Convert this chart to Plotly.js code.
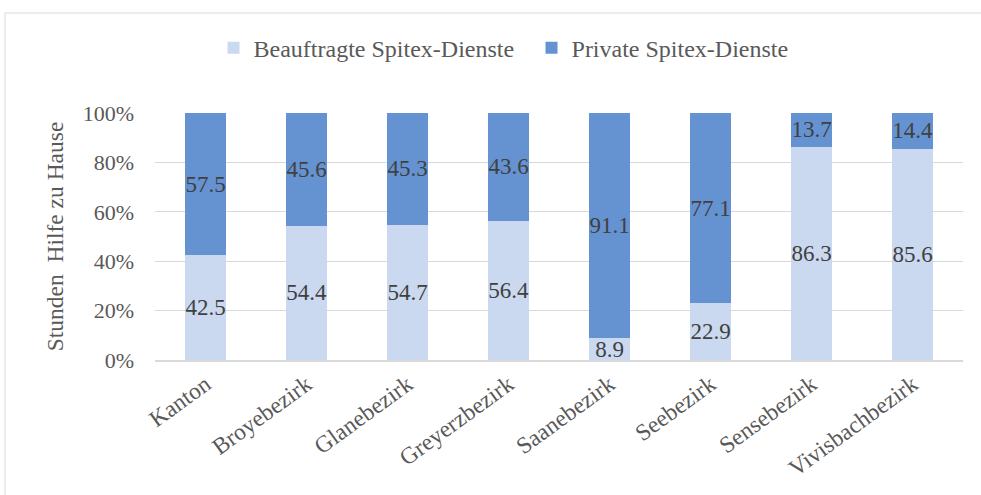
<!DOCTYPE html>
<html>
<head>
<meta charset="utf-8">
<script src="https://cdn.plot.ly/plotly-3.0.1.min.js"></script>
<style>
html,body{margin:0;padding:0;background:#fff;}
#chart{width:981px;height:495px;}
</style>
</head>
<body>
<div id="chart"></div>
<script>
const categories = ["Kanton","Broyebezirk","Glanebezirk","Greyerzbezirk","Saanebezirk","Seebezirk","Sensebezirk","Vivisbachbezirk"];
const beauftragt = [42.5, 54.4, 54.7, 56.4, 8.9, 22.9, 86.3, 85.6];
const privat = [57.5, 45.6, 45.3, 43.6, 91.1, 77.1, 13.7, 14.4];
const seriesNames = ["Beauftragte Spitex-Dienste", "Private Spitex-Dienste"];
const yTickVals = [0, 20, 40, 60, 80, 100];
const yTickText = ["0%", "20%", "40%", "60%", "80%", "100%"];

const FONT = "Liberation Serif, Times New Roman, serif";
const labelFont = {family: FONT, size: 23, color: "#404040"};

const traces = [
  {
    type: "bar", name: seriesNames[0], x: categories, y: beauftragt,
    marker: {color: "#CAD9EF"},
    text: beauftragt.map(v => v.toFixed(1)), textposition: "inside",
    insidetextanchor: "middle", textangle: 0, constraintext: "none",
    textfont: labelFont, hoverinfo: "skip"
  },
  {
    type: "bar", name: seriesNames[1], x: categories, y: privat,
    marker: {color: "#6593D2"},
    text: privat.map(v => v.toFixed(1)), textposition: "inside",
    insidetextanchor: "middle", textangle: 0, constraintext: "none",
    textfont: labelFont, hoverinfo: "skip"
  }
];

const layout = {
  width: 981, height: 495,
  margin: {l: 155, r: 18, t: 113, b: 135},
  barmode: "stack", bargap: 0.595,
  paper_bgcolor: "#ffffff", plot_bgcolor: "#ffffff",
  font: {family: FONT, size: 22, color: "#595959"},
  showlegend: true,
  legend: {
    orientation: "h", x: 0.466, xanchor: "center", y: 1.263, yanchor: "middle",
    font: {family: FONT, size: 24, color: "#595959"},
    traceorder: "normal", itemwidth: 30, entrywidth: 273, entrywidthmode: "pixels"
  },
  xaxis: {
    type: "category", tickangle: -36, showgrid: false,
    showline: true, linecolor: "#D9D9D9", linewidth: 1.5,
    ticks: "", tickfont: {family: FONT, size: 23.5, color: "#595959"},
    zeroline: false
  },
  yaxis: {
    range: [0, 100], tickvals: yTickVals, ticktext: yTickText,
    showgrid: true, gridcolor: "#D9D9D9", gridwidth: 1,
    zeroline: false, showline: false, ticks: "",
    ticklabelstandoff: 20,
    tickfont: {family: FONT, size: 22, color: "#595959"},
    title: {text: "Stunden\u00a0 Hilfe zu Hause", font: {family: FONT, size: 23.5, color: "#595959"}, standoff: 12}
  },
  shapes: [{
    type: "rect", xref: "paper", yref: "paper",
    x0: -0.1856, x1: 1.2, y0: -0.7, y1: 1.405,
    line: {color: "#D9D9D9", width: 1}, fillcolor: "rgba(0,0,0,0)", layer: "below"
  }]
};

Plotly.newPlot("chart", traces, layout, {displayModeBar: false, staticPlot: true});
</script>
</body>
</html>
